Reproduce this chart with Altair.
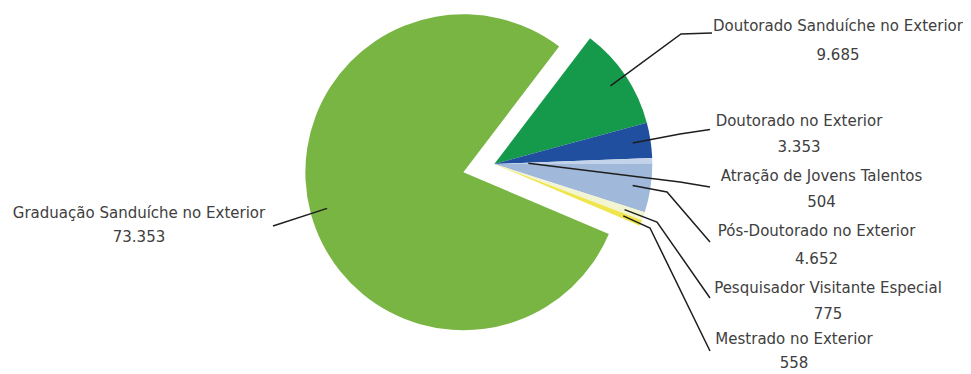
import math
import altair as alt
import pandas as pd

# ---------------- data ----------------
categories = [
    "Doutorado Sanduíche no Exterior",
    "Doutorado no Exterior",
    "Atração de Jovens Talentos",
    "Pós-Doutorado no Exterior",
    "Pesquisador Visitante Especial",
    "Mestrado no Exterior",
    "Graduação Sanduíche no Exterior",
]
values = [9685, 3353, 504, 4652, 775, 558, 73353]
value_labels = [f"{v:,}".replace(",", ".") for v in values]

# ---------------- style / layout ----------------
colors = ["#15994a", "#1f4f9e", "#c3d4ea", "#a0b9da", "#f2f4d2", "#efe64e", "#78b543"]
W, H = 955, 366
R = 158
START_DEG = 37.3
CENTER = (486.3, 156.0)
EXPLODE = 32
EXPLODED = "Graduação Sanduíche no Exterior"

label_cx = [830, 791, 813.5, 808.5, 820, 786, 131]
name_base = [23, 118, 173, 228, 284.5, 336, 209.5]
value_base = [52, 143.5, 198.5, 255.5, 310.5, 360, 233.5]
leader_r = [140, 140, 34, 140, 138, 139, 141]
leader_elbow = [(673, 26), (672, 126), (672, 174), (659, 184), (649, 214), (642, 220), (265, 218)]
leader_end = [(704, 25), (702, 121.5), (702, 179), (702, 234), (702, 290), (702, 343), (265, 218)]

# ---------------- derived geometry ----------------
total = sum(values)
mids = []
cum = 0
for v in values:
    a0 = START_DEG + cum / total * 360
    a1 = START_DEG + (cum + v) / total * 360
    mids.append((a0 + a1) / 2)
    cum += v

ex_i = categories.index(EXPLODED)
ex_mid = math.radians(mids[ex_i])
BIG = (CENTER[0] + EXPLODE * math.sin(ex_mid), CENTER[1] - EXPLODE * math.cos(ex_mid))

df = pd.DataFrame({"cat": categories, "value": values, "idx": list(range(len(values)))})

rows = []
for i, c in enumerate(categories):
    cx, cy = BIG if c == EXPLODED else CENTER
    m = math.radians(mids[i])
    sx = cx + leader_r[i] * math.sin(m)
    sy = cy - leader_r[i] * math.cos(m)
    pts = [(sx, sy), leader_elbow[i], leader_end[i]]
    for s, (px, py) in enumerate(pts):
        rows.append({"cat": c, "seq": s, "px": px, "py": py})
df_lines = pd.DataFrame(rows)

df_text = pd.DataFrame({
    "cat": categories,
    "name": categories,
    "vlabel": value_labels,
    "cx": label_cx,
    "nb": name_base,
    "vb": value_base,
})

a0r = math.radians(START_DEG)
base = alt.Chart(df).encode(
    theta=alt.Theta("value:Q", stack=True, scale=alt.Scale(range=[a0r, a0r + 2 * math.pi])),
    order=alt.Order("idx:Q"),
    color=alt.Color("cat:N", scale=alt.Scale(domain=categories, range=colors), legend=None),
)

small = base.mark_arc(radius=R).encode(
    x=alt.value(CENTER[0]),
    y=alt.value(CENTER[1]),
    opacity=alt.condition(alt.datum.cat == EXPLODED, alt.value(0), alt.value(1)),
)
big = base.mark_arc(radius=R).encode(
    x=alt.value(BIG[0]),
    y=alt.value(BIG[1]),
    opacity=alt.condition(alt.datum.cat == EXPLODED, alt.value(1), alt.value(0)),
)

lines = alt.Chart(df_lines).mark_line(color="#1e1e1e", strokeWidth=1.5).encode(
    x=alt.X("px:Q", scale=None, axis=None),
    y=alt.Y("py:Q", scale=None, axis=None),
    detail="cat:N",
    order="seq:Q",
)

text_style = dict(align="center", baseline="alphabetic", font="DejaVu Sans", fontSize=15, color="#404040")
names = alt.Chart(df_text).mark_text(**text_style).encode(
    x=alt.X("cx:Q", scale=None, axis=None),
    y=alt.Y("nb:Q", scale=None, axis=None),
    text="name:N",
)
vals = alt.Chart(df_text).mark_text(**text_style).encode(
    x=alt.X("cx:Q", scale=None, axis=None),
    y=alt.Y("vb:Q", scale=None, axis=None),
    text="vlabel:N",
)

chart = alt.layer(small, big, lines, names, vals).properties(
    width=W, height=H, autosize=alt.AutoSizeParams(type="none"), padding=0
).configure_view(stroke=None)

chart.save("out.html", embed_options={"renderer": "svg", "actions": False})
